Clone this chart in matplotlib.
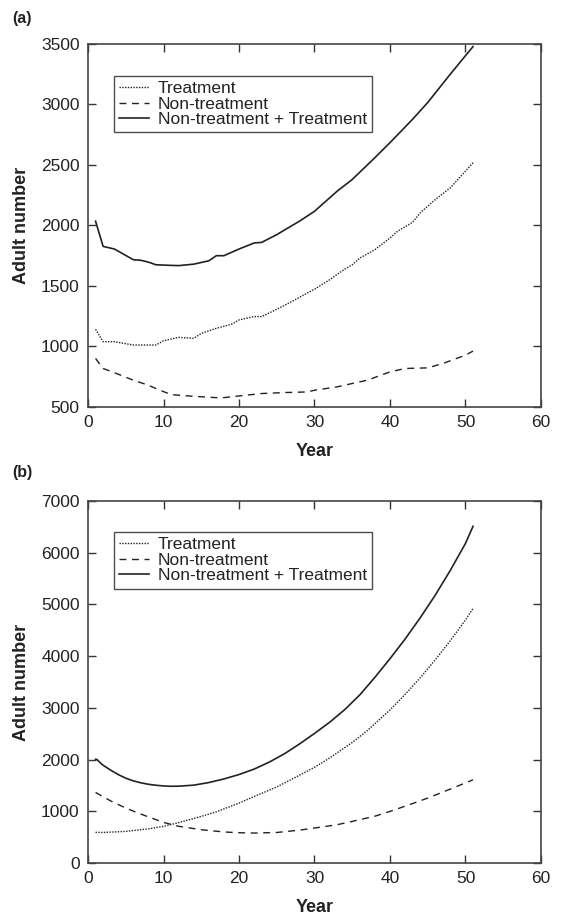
import matplotlib
matplotlib.use("Agg")
import matplotlib.pyplot as plt

plt.rcParams['font.family'] = ['Liberation Sans', 'DejaVu Sans']

# Panel (a)
a_tot_x = [1, 2, 3.5, 6, 7, 8, 9, 11, 12, 14, 16, 17, 18, 20, 22, 23, 25, 28, 30, 33, 35, 38, 40, 43, 45, 48, 50, 51]
a_tot_y = [2035, 1827, 1805, 1717, 1712, 1697, 1675, 1670, 1668, 1680, 1708, 1750, 1750, 1805, 1855, 1860, 1924, 2035, 2117, 2283, 2380, 2560, 2684, 2878, 3016, 3251, 3403, 3478]
a_trt_x = [1, 2, 3.5, 6, 9, 10, 12, 14, 15, 17, 19, 20, 22, 23, 25, 27, 29, 30, 32, 34, 35, 36, 38, 40, 41, 43, 44, 46, 48, 49, 51]
a_trt_y = [1142, 1039, 1039, 1012, 1012, 1047, 1075, 1067, 1108, 1150, 1183, 1219, 1247, 1247, 1307, 1371, 1440, 1473, 1551, 1639, 1675, 1730, 1800, 1896, 1952, 2026, 2104, 2214, 2311, 2380, 2518]
a_non_x = [1, 2, 4, 6, 8, 9, 11, 14, 17, 18, 20, 23, 26, 29, 30, 33, 35, 37, 40, 42, 45, 47, 50, 51]
a_non_y = [901, 818, 771, 721, 680, 652, 602, 588, 577, 577, 591, 611, 619, 624, 638, 666, 694, 721, 790, 818, 823, 859, 928, 962]

# Panel (b)
b_tot_x = [1, 1.2, 1.6, 2, 3, 4, 5, 6, 7, 8, 9, 10, 11, 12, 14, 16, 18, 20, 22, 24, 26, 28, 30, 32, 34, 36, 38, 40, 42, 44, 46, 48, 50, 51]
b_tot_y = [2005, 2000, 1940, 1890, 1795, 1710, 1640, 1588, 1550, 1522, 1503, 1490, 1483, 1485, 1505, 1555, 1625, 1710, 1815, 1950, 2110, 2300, 2505, 2720, 2965, 3250, 3590, 3950, 4330, 4740, 5180, 5660, 6180, 6510]
b_trt_x = [1, 2, 5, 8, 10, 12, 15, 17, 20, 22, 25, 27, 30, 32, 35, 37, 40, 42, 44, 46, 48, 50, 51]
b_trt_y = [592, 590, 611, 660, 708, 780, 901, 990, 1158, 1285, 1470, 1620, 1850, 2030, 2330, 2560, 2960, 3260, 3580, 3930, 4300, 4700, 4920]
b_non_x = [1, 3, 5, 7, 10, 12, 15, 18, 20, 22, 25, 28, 30, 33, 35, 38, 40, 43, 45, 48, 51]
b_non_y = [1364, 1200, 1062, 945, 785, 710, 643, 600, 585, 579, 590, 635, 676, 740, 804, 905, 997, 1150, 1255, 1430, 1608]

labels = ["Treatment", "Non-treatment", "Non-treatment + Treatment"]
lc = "#222222"

fig = plt.figure(figsize=(5.62, 9.17), dpi=100)
ax1 = fig.add_axes([0.1566, 0.5562, 0.806, 0.3959])
ax2 = fig.add_axes([0.1566, 0.0589, 0.806, 0.3948])

def style(ax, ymin, ymax, ystep, legend_anchor):
    ax.set_xlim(0, 60)
    ax.set_ylim(ymin, ymax)
    ax.set_xticks(range(0, 61, 10))
    ax.set_yticks(range(ymin, ymax + 1, ystep))
    ax.tick_params(direction='in', top=True, right=True, length=6, width=1,
                   labelsize=12.5, colors='#333333', labelcolor='#222222', pad=6)
    for s in ax.spines.values():
        s.set_color('#444444')
        s.set_linewidth(1.2)
    ax.set_xlabel("Year", fontsize=13, fontweight='bold', color='#222222', labelpad=9)
    ax.set_ylabel("Adult number", fontsize=13, fontweight='bold', color='#222222', labelpad=8)
    leg = ax.legend(loc='upper left', bbox_to_anchor=legend_anchor, fontsize=12.5,
                    frameon=True, fancybox=False, edgecolor='#222222',
                    handlelength=1.7, handletextpad=0.55, labelspacing=0.02,
                    borderpad=0.3, borderaxespad=0)
    leg.get_frame().set_linewidth(1.0)
    for t in leg.get_texts():
        t.set_color('#222222')

ax1.plot(a_trt_x, a_trt_y, color=lc, lw=1.0, ls=(0, (1, 1)), label=labels[0])
ax1.plot(a_non_x, a_non_y, color=lc, lw=1.0, ls=(0, (5, 4)), label=labels[1])
ax1.plot(a_tot_x, a_tot_y, color=lc, lw=1.2, ls='-', label=labels[2])
style(ax1, 500, 3500, 500, (0.057, 0.912))

ax2.plot(b_trt_x, b_trt_y, color=lc, lw=1.0, ls=(0, (1, 1)), label=labels[0])
ax2.plot(b_non_x, b_non_y, color=lc, lw=1.0, ls=(0, (5, 4)), label=labels[1])
ax2.plot(b_tot_x, b_tot_y, color=lc, lw=1.2, ls='-', label=labels[2])
style(ax2, 0, 7000, 1000, (0.057, 0.914))

fig.text(0.022, 0.988, "(a)", fontsize=11.5, fontweight='bold', va='top', ha='left', color='#222222')
fig.text(0.022, 0.493, "(b)", fontsize=11.5, fontweight='bold', va='top', ha='left', color='#222222')

fig.savefig("out.png", dpi=100)
